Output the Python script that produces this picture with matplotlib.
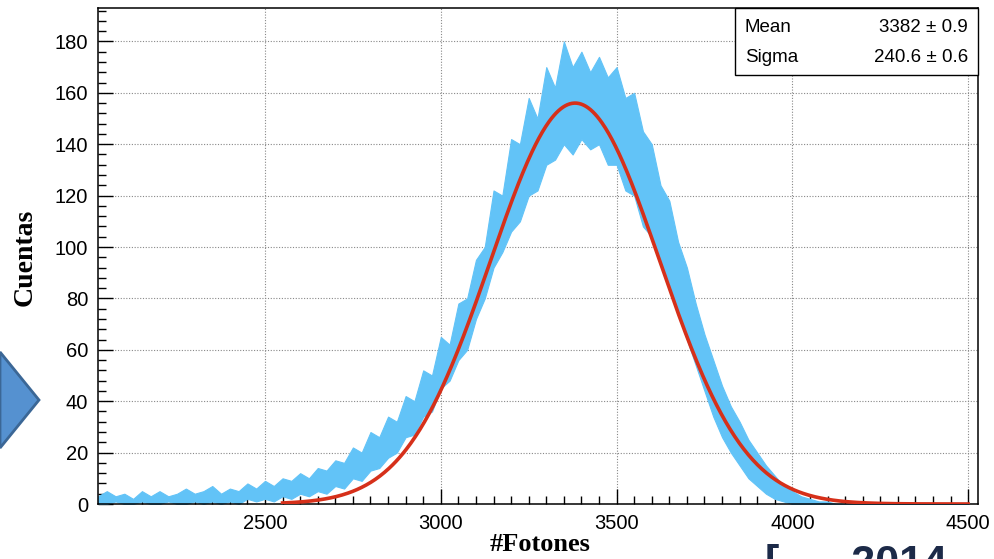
import numpy as np
import matplotlib
matplotlib.use('Agg')
import matplotlib.pyplot as plt
from matplotlib.patches import Polygon, Rectangle
from matplotlib.ticker import MultipleLocator

# histogram band (low / high edge of the noisy bins, every 25 photons)
bin_x = list(range(2025, 4525, 25))
band_lo = [0, 0, 1, 0, 0, 1, 0, 0, 1, 0,
           0, 1, 0, 1, 0, 1, 0, 2, 1, 2,
           1, 3, 2, 4, 3, 5, 4, 7, 6, 10,
           9, 13, 14, 18, 20, 26, 27, 34, 36, 45,
           48, 56, 60, 72, 80, 92, 98, 106, 110, 120,
           122, 132, 134, 140, 136, 142, 138, 140, 132, 132,
           122, 120, 108, 104, 94, 86, 74, 64, 54, 44,
           34, 26, 20, 15, 10, 7, 4, 2, 1, 0,
           0, 0, 0, 0, 0, 0, 0, 0, 0, 0,
           0, 0, 0, 0, 0, 0, 0, 0, 0, 0]
band_hi = [3, 5, 3, 4, 2, 5, 3, 5, 3, 4,
           6, 4, 5, 7, 4, 6, 5, 8, 6, 9,
           7, 10, 9, 12, 10, 14, 13, 17, 16, 22,
           20, 28, 26, 34, 32, 42, 40, 52, 50, 65,
           62, 78, 80, 95, 100, 122, 120, 142, 140, 158,
           150, 170, 162, 180, 170, 176, 168, 174, 166, 170,
           158, 160, 145, 140, 124, 118, 102, 92, 78, 66,
           56, 46, 38, 32, 25, 20, 15, 11, 7, 5,
           3, 2, 1, 1, 0, 0, 0, 0, 0, 0,
           0, 0, 0, 0, 0, 0, 0, 0, 0, 0]

# gaussian fit parameters shown in the stats box
fit_mean = 3382
fit_sigma = 240.6
fit_amp = 156
fit_range = (2550, 4500)

stats_names = ['Mean', 'Sigma']
stats_vals = ['3382 \u00b1 0.9', '240.6 \u00b1 0.6']

plt.rcParams['font.family'] = ['Liberation Sans', 'DejaVu Sans']

fig = plt.figure(figsize=(9.95, 5.59), dpi=100)
ax = fig.add_axes([98 / 995, 1 - 504 / 559, 880 / 995, 496 / 559])

ax.fill_between(bin_x, band_lo, band_hi, color='#62c3f7', lw=0.8, edgecolor='#62c3f7', zorder=2)

xf = np.linspace(fit_range[0], fit_range[1], 600)
yf = fit_amp * np.exp(-(xf - fit_mean) ** 2 / (2 * fit_sigma ** 2))
ax.plot(xf, yf, color='#d6301a', lw=2.6, zorder=3)

ax.set_xlim(2025, 4528)
ax.set_ylim(0, 193)
ax.xaxis.set_major_locator(MultipleLocator(500))
ax.xaxis.set_minor_locator(MultipleLocator(50))
ax.yaxis.set_major_locator(MultipleLocator(20))
ax.yaxis.set_minor_locator(MultipleLocator(4))
ax.tick_params(which='both', direction='in', labelsize=14.5, pad=7)
ax.tick_params(which='major', length=11, width=1)
ax.tick_params(which='minor', length=5.5, width=1)
ax.grid(True, which='major', ls=(0, (1, 1.5)), color='#888888', lw=0.8, zorder=1)
for s in ax.spines.values():
    s.set_linewidth(1.1)

# stats box
box = Rectangle((735 / 995, 1 - 75 / 559), 243 / 995, 67 / 559, transform=fig.transFigure,
                facecolor='white', edgecolor='black', lw=1, zorder=5)
fig.add_artist(box)
for i, (n, v) in enumerate(zip(stats_names, stats_vals)):
    yy = 1 - (27 + 30 * i) / 559
    fig.text(745 / 995, yy, n, fontsize=13.5, va='center', ha='left', zorder=6)
    fig.text(968 / 995, yy, v, fontsize=13.5, va='center', ha='right', zorder=6)

fig.text(25 / 995, 1 - 257 / 559, 'Cuentas', rotation=90, fontsize=20, fontweight='bold',
         family='Liberation Serif', va='center', ha='center')
fig.text(540 / 995, 1 - 533 / 559, '#Fotones', fontsize=19, fontweight='bold',
         family='Liberation Serif', va='top', ha='center')

# slide arrow on the left and clipped caption at the bottom
arrow = Polygon([(0, 1 - 352 / 559), (39 / 995, 1 - 400 / 559), (0, 1 - 448 / 559)],
                closed=True, transform=fig.transFigure, facecolor='#5591d0',
                edgecolor='#3b6796', lw=2)
fig.add_artist(arrow)
fig.text(765 / 995, 1 - 544 / 559, '[      2014', fontsize=31, fontweight='bold',
         color='#1c2a48', va='top', ha='left')

fig.savefig('out.png', dpi=100)
